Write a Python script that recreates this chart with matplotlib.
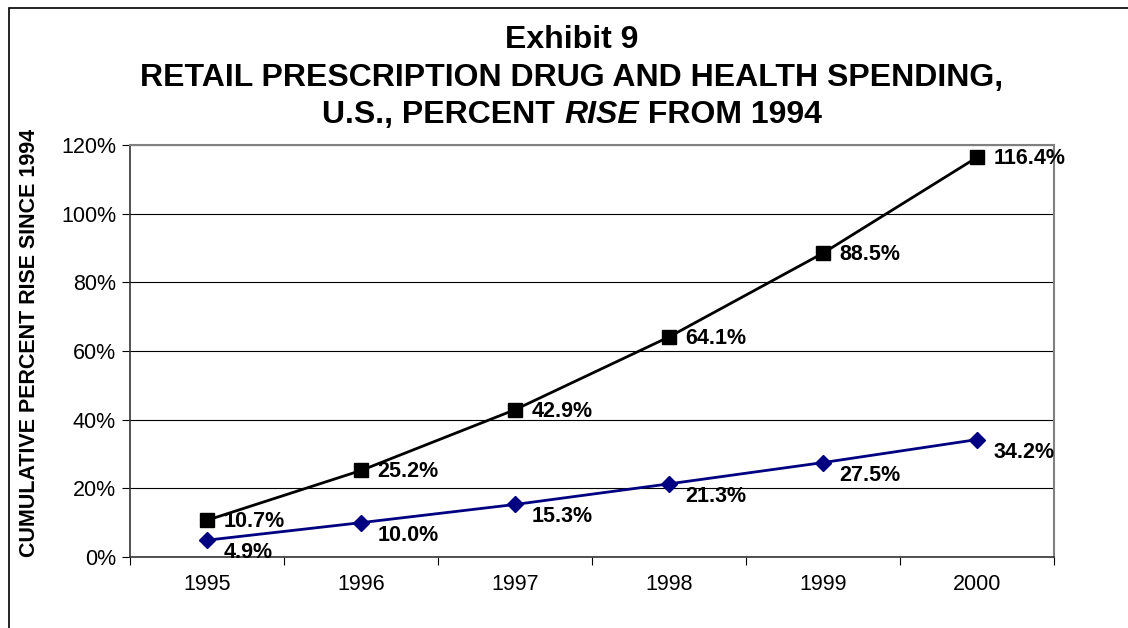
import matplotlib
matplotlib.use("Agg")
import matplotlib.pyplot as plt
from matplotlib.patches import Rectangle
from matplotlib.ticker import FixedLocator, PercentFormatter

years = ["1995", "1996", "1997", "1998", "1999", "2000"]
drug_rise = [10.7, 25.2, 42.9, 64.1, 88.5, 116.4]
health_rise = [4.9, 10.0, 15.3, 21.3, 27.5, 34.2]

plt.rcParams["font.family"] = ["Liberation Sans", "DejaVu Sans"]

fig = plt.figure(figsize=(11.28, 6.28), dpi=100)
ax = fig.add_axes([130 / 1128, 1 - 557 / 628, 924 / 1128, 412 / 628])

x = list(range(len(years)))
ax.plot(x, drug_rise, color="black", lw=2, marker="s", ms=10.5, zorder=3)
ax.plot(x, health_rise, color="#000080", lw=2, marker="D", ms=8, zorder=3)

for xi, v in zip(x, drug_rise):
    ax.annotate(f"{v:.1f}%", (xi, v), xytext=(12, -1), textcoords="offset points",
                ha="left", va="center", fontsize=15.5, fontweight="bold")
for xi, v in zip(x, health_rise):
    ax.annotate(f"{v:.1f}%", (xi, v), xytext=(12, -9), textcoords="offset points",
                ha="left", va="center", fontsize=15.5, fontweight="bold")

ax.set_xlim(-0.5, len(years) - 0.5)
ax.set_ylim(0, 120)
ax.yaxis.set_major_locator(FixedLocator(range(0, 121, 20)))
ax.yaxis.set_major_formatter(PercentFormatter(decimals=0))
ax.set_xticks([i - 0.5 for i in range(len(years) + 1)])
ax.set_xticklabels([])
ax.set_xticks(x, minor=True)
ax.set_xticklabels(years, minor=True, fontsize=15.5)
ax.tick_params(axis="x", which="minor", length=0, pad=12)
ax.tick_params(axis="x", which="major", length=6, direction="out")
ax.tick_params(axis="y", length=6, direction="out", labelsize=15.5, pad=4)
ax.grid(axis="y", color="black", lw=0.8)
ax.set_axisbelow(True)
for side in ["top", "right"]:
    ax.spines[side].set_color("#808080")
    ax.spines[side].set_linewidth(1.5)
for side in ["left", "bottom"]:
    ax.spines[side].set_color("#333333")
    ax.spines[side].set_linewidth(1.2)

fig.text(30 / 1128, 1 - 343 / 628, "CUMULATIVE PERCENT RISE SINCE 1994", rotation=90,
         ha="center", va="center", fontsize=15.5, fontweight="bold")

# title
cx = 572 / 1128
fig.text(cx, 1 - 40 / 628, "Exhibit 9", ha="center", va="center", fontsize=23, fontweight="bold")
fig.text(cx, 1 - 78 / 628, "RETAIL PRESCRIPTION DRUG AND HEALTH SPENDING,",
         ha="center", va="center", fontsize=23, fontweight="bold")

parts = [("U.S., PERCENT ", "normal"), ("RISE", "italic"), (" FROM 1994", "normal")]
renderer = fig.canvas.get_renderer()
texts = []
for s, style in parts:
    t = fig.text(0, 1 - 115 / 628, s, ha="left", va="center", fontsize=23,
                 fontweight="bold", fontstyle=style)
    texts.append(t)
widths = [t.get_window_extent(renderer).width / fig.bbox.width for t in texts]
left = cx - sum(widths) / 2
for t, w in zip(texts, widths):
    t.set_x(left)
    left += w

# outer frame
fig.patches.append(Rectangle((9 / 1128, -0.1), 1.2, 1 - 8 / 628 + 0.1,
                             transform=fig.transFigure, fill=False,
                             edgecolor="black", lw=1.2))

fig.savefig("out.png", dpi=100)
